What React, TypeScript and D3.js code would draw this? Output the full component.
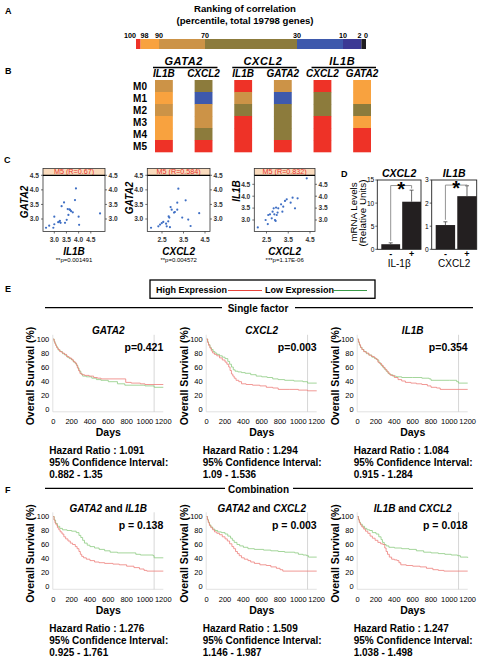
import React from "react";
import * as d3 from "d3";

const FONT = "'Liberation Sans', Arial, Helvetica, sans-serif";

// ---------------- Panel A : ranking colour scale ----------------
const rankBreaks = [100, 98, 90, 70, 30, 10, 2, 0];
const rankTickLabels = ["100", "98", "90", "70", "30", "10", "2", "0"];
const rankColors = ["#EE3227", "#F8A23F", "#CC9347", "#8C7B3C", "#3E59AC", "#3B3994", "#1F1D20"];

// ---------------- Panel B : module heatmap ----------------
const moduleNames = ["M0", "M1", "M2", "M3", "M4", "M5"];
const groupGenes = ["GATA2", "CXCL2", "IL1B"];
const partnerGenes = ["IL1B", "CXCL2", "IL1B", "GATA2", "CXCL2", "GATA2"];
// index into rankColors, one value per module M0..M5
const binGata2Il1b = [2, 1, 2, 1, 1, 0];
const binGata2Cxcl2 = [3, 4, 2, 2, 3, 0];
const binCxcl2Il1b = [0, 2, 3, 0, 0, 0];
const binCxcl2Gata2 = [2, 4, 3, 3, 3, 0];
const binIl1bCxcl2 = [0, 3, 3, 0, 0, 0];
const binIl1bGata2 = [1, 1, 3, 1, 0, 0];
const heatColumns = [binGata2Il1b, binGata2Cxcl2, binCxcl2Il1b, binCxcl2Gata2, binIl1bCxcl2, binIl1bGata2];

// ---------------- Panel C : scatter plots (M5) ----------------
const il1bVsGata2 = [
  [2.66, 2.7], [2.79, 2.77], [2.96, 2.7], [3.0, 2.82], [3.0, 3.08], [3.16, 2.89], [3.21, 2.91],
  [3.23, 2.94], [3.26, 2.87], [3.3, 3.44], [3.4, 3.57], [3.44, 2.87], [3.51, 2.97], [3.55, 3.34],
  [3.58, 3.14], [3.62, 3.33], [3.65, 3.31], [3.69, 3.27], [3.76, 3.23], [3.85, 3.65], [3.89, 4.05],
  [4.0, 3.08], [4.02, 2.8], [4.88, 3.19],
];
const cxcl2VsGata2 = [
  [1.99, 2.7], [2.33, 2.75], [2.41, 2.81], [2.49, 2.86], [2.56, 2.9], [2.69, 2.84], [2.72, 2.75],
  [2.79, 2.92], [2.81, 3.09], [2.84, 3.05], [2.87, 2.72], [2.9, 3.41], [2.95, 3.32], [3.06, 3.22],
  [3.1, 3.24], [3.21, 3.56], [3.26, 4.04], [3.21, 3.32], [3.44, 3.05], [3.6, 3.64], [3.72, 2.98],
  [3.83, 2.76], [4.23, 3.2],
];
const cxcl2VsIl1b = [
  [2.1, 2.69], [2.46, 3.0], [2.56, 2.83], [2.58, 3.21], [2.66, 3.24], [2.74, 3.07], [2.78, 3.35],
  [2.83, 3.49], [2.86, 3.24], [2.89, 3.0], [2.92, 2.96], [2.94, 3.52], [2.97, 3.21], [3.01, 3.31],
  [3.04, 3.49], [3.17, 3.66], [3.23, 3.35], [3.27, 3.56], [3.35, 3.8], [3.43, 3.87], [3.61, 3.73],
  [3.7, 3.94], [3.81, 3.49], [3.93, 3.91], [4.35, 4.75],
];

// ---------------- Panel D : qPCR bars ----------------
const dGroups = ["-", "+"];
const cxcl2Mean = [1.1, 10.3];
const cxcl2Err = [0.3, 2.5];
const cxcl2Ticks = [0, 5, 10, 15];
const il1bMean = [1.05, 2.3];
const il1bErr = [0.14, 0.45];
const il1bTicks = [0, 1, 2, 3];

// ---------------- Panels E / F : Kaplan-Meier curves ----------------
const kmDayTicks = [0, 200, 400, 600, 800, 1000, 1200];
const kmPctTicks = [0, 20, 40, 60, 80, 100];

const kmGata2High = [[0,100],[8,97],[15,94],[25,91],[35,88],[50,85],[70,82],[95,80],[120,78],[145,75],[170,73],[195,71],[215,68],[235,66],[250,63],[262,59],[275,55],[290,51],[310,49],[340,48],[390,47],[440,45],[480,44],[520,43],[760,43],[790,38],[850,37],[950,36],[1000,35],[1200,35]];
const kmGata2Low = [[0,100],[10,96],[20,93],[30,90],[42,87],[55,84],[75,82],[100,79],[125,77],[150,74],[175,72],[200,70],[220,67],[240,65],[255,62],[268,58],[282,54],[300,50],[320,47],[360,46],[420,44],[470,42],[520,41],[600,39],[700,36],[780,34],[1000,33],[1100,31],[1200,31]];
const kmCxcl2High = [[0,100],[10,95],[20,91],[35,87],[50,83],[65,80],[85,78],[110,76],[140,73],[170,70],[200,67],[220,64],[240,60],[255,55],[270,50],[285,47],[300,44],[320,41],[350,39],[380,36],[430,35],[500,34],[580,33],[650,31],[720,30],[780,28],[900,28],[1000,27],[1100,26],[1200,26]];
const kmCxcl2Low = [[0,100],[10,96],[20,92],[35,88],[50,85],[70,82],[90,80],[110,78],[140,76],[170,74],[200,72],[230,68],[250,64],[270,60],[290,56],[310,54],[340,53],[380,52],[420,51],[480,49],[540,47],[600,46],[660,45],[720,43],[780,42],[850,41],[950,40],[1050,39],[1100,37],[1200,37]];
const kmIl1bHigh = [[0,100],[8,96],[18,92],[30,88],[45,85],[65,82],[90,80],[120,77],[150,75],[180,73],[200,71],[220,67],[240,65],[260,62],[280,59],[300,56],[320,53],[340,50],[360,48],[400,45],[440,42],[480,40],[520,38],[580,37],[640,36],[700,35],[760,33],[800,31],[860,30],[900,28],[1200,28]];
const kmIl1bLow = [[0,100],[10,95],[20,91],[32,88],[48,85],[68,82],[95,79],[125,77],[155,74],[185,72],[210,70],[230,66],[250,63],[270,60],[290,57],[310,54],[330,51],[350,49],[380,47],[420,46],[480,45],[600,45],[700,44],[780,43],[800,41],[1000,41],[1080,39],[1100,37],[1200,37]];
const kmGata2Il1bHigh = [[0,100],[8,95],[18,91],[30,88],[45,84],[60,81],[75,78],[95,75],[115,71],[135,68],[160,65],[185,62],[210,60],[240,57],[260,54],[280,50],[295,46],[310,43],[330,41],[360,39],[400,37],[450,35],[500,34],[560,33],[650,32],[720,31],[800,29],[880,27],[940,25],[990,23],[1020,22],[1200,22]];
const kmGata2Il1bLow = [[0,100],[10,95],[25,90],[45,86],[70,83],[100,81],[150,80],[200,79],[250,77],[280,73],[300,70],[320,66],[340,62],[370,59],[400,57],[450,55],[500,53],[560,51],[620,49],[700,48],[870,48],[900,46],[950,45],[1090,44],[1100,41],[1200,41]];
const kmGata2Cxcl2High = [[0,100],[8,95],[18,91],[30,87],[45,84],[65,81],[85,78],[110,76],[140,74],[170,71],[200,68],[225,65],[250,61],[275,57],[295,54],[315,50],[335,47],[355,44],[380,41],[410,39],[450,37],[480,35],[520,33],[580,31],[650,30],[700,28],[760,26],[800,24],[830,22],[1200,22]];
const kmGata2Cxcl2Low = [[0,100],[8,96],[18,92],[30,88],[45,85],[65,82],[90,80],[120,78],[160,77],[200,75],[230,72],[260,69],[280,66],[300,63],[330,60],[360,58],[400,56],[450,54],[520,53],[620,52],[700,51],[780,50],[850,49],[960,48],[1000,46],[1050,45],[1090,44],[1110,42],[1200,42]];
const kmIl1bCxcl2High = [[0,100],[8,95],[18,91],[30,88],[45,85],[65,82],[85,79],[110,76],[135,72],[160,69],[190,66],[220,63],[250,61],[275,60],[295,55],[310,50],[325,46],[345,42],[370,39],[400,38],[430,37],[450,34],[470,31],[530,30],[600,29],[680,28],[750,26],[820,24],[880,23],[940,22],[1200,22]];
const kmIl1bCxcl2Low = [[0,100],[8,96],[18,92],[30,89],[50,86],[75,83],[100,81],[130,80],[160,77],[200,75],[230,71],[255,67],[270,63],[290,60],[310,58],[340,56],[400,55],[480,54],[560,53],[640,51],[720,49],[800,48],[880,47],[950,46],[1020,45],[1090,44],[1120,42],[1200,41]];

const singleTitles = [["GATA2"], ["CXCL2"], ["IL1B"]];
const singleP = ["p=0.421", "p=0.003", "p=0.354"];
const singleHR = ["1.091", "1.294", "1.084"];
const singleCI = ["0.882 - 1.35", "1.09 - 1.536", "0.915 - 1.284"];
const comboTitles = [["GATA2", "IL1B"], ["GATA2", "CXCL2"], ["IL1B", "CXCL2"]];
const comboP = ["p = 0.138", "p = 0.003", "p = 0.018"];
const comboHR = ["1.276", "1.509", "1.247"];
const comboCI = ["0.925 - 1.761", "1.146 - 1.987", "1.038 - 1.498"];

const singleCurves = [[kmGata2High, kmGata2Low], [kmCxcl2High, kmCxcl2Low], [kmIl1bHigh, kmIl1bLow]];
const comboCurves = [[kmGata2Il1bHigh, kmGata2Il1bLow], [kmGata2Cxcl2High, kmGata2Cxcl2Low], [kmIl1bCxcl2High, kmIl1bCxcl2Low]];

const KM_RED = "#EE7F7B";
const KM_GREEN = "#8DCB82";

// ===================================================================

function PanelA() {
  const x = d3.scaleLinear().domain([100, 0]).range([136, 366]);
  const anchors = ["end", "start", "middle", "middle", "middle", "middle", "end", "middle"];
  return (
    <g>
      <text x={245} y={11.5} textAnchor="middle" fontSize={9.6} fontWeight="bold">Ranking of correlation</text>
      <text x={245} y={23.5} textAnchor="middle" fontSize={9.6} fontWeight="bold">(percentile, total 19798 genes)</text>
      {rankColors.map((c, i) => (
        <rect key={i} x={x(rankBreaks[i])} y={39} width={x(rankBreaks[i + 1]) - x(rankBreaks[i])} height={10} fill={c} />
      ))}
      {rankTickLabels.map((t, i) => (
        <text key={i} x={x(rankBreaks[i])} y={37.8} textAnchor={anchors[i]} fontSize={7.2} fontWeight="bold">{t}</text>
      ))}
    </g>
  );
}

function PanelB() {
  const cols = d3.range(heatColumns.length);
  const xb = d3.scaleBand<number>().domain(cols).range([155, 371]).paddingInner(0.55);
  const yb = d3.scaleBand<string>().domain(moduleNames).range([80, 152]);
  return (
    <g>
      {groupGenes.map((g, gi) => {
        const a = xb(gi * 2)!;
        const b = xb(gi * 2 + 1)! + xb.bandwidth();
        return (
          <g key={g}>
            <text x={(a + b) / 2} y={65} textAnchor="middle" fontSize={11} fontWeight="bold" fontStyle="italic" letterSpacing={0.6}>{g}</text>
            <line x1={a - 2} x2={b + 5} y1={67.5} y2={67.5} stroke="#000" strokeWidth={1.5} />
          </g>
        );
      })}
      {partnerGenes.map((p, i) => (
        <text key={i} x={xb(i)! + xb.bandwidth() / 2} y={76.8} textAnchor="middle" fontSize={10} fontWeight="bold" fontStyle="italic">{p}</text>
      ))}
      {moduleNames.map((m) => (
        <text key={m} x={147} y={yb(m)! + yb.bandwidth() / 2 + 3.6} textAnchor="end" fontSize={10} fontWeight="bold">{m}</text>
      ))}
      {heatColumns.map((col, ci) =>
        col.map((bin, ri) => (
          <rect key={ci + "-" + ri} x={xb(ci)} y={yb(moduleNames[ri])} width={xb.bandwidth()} height={yb.bandwidth() + 0.3} fill={rankColors[bin]} />
        ))
      )}
    </g>
  );
}

function Scatter(props: any) {
  const { pts, x0, x1, xDom, xRange, xTicks, yDom, yRange, yTicks, strip, xTitle, yTitle, yTitleX, yTitleY, pText } = props;
  const top = 168.5, stripB = 175.3, bottom = 231.5;
  const x = d3.scaleLinear().domain(xDom).range(xRange);
  const y = d3.scaleLinear().domain(yDom).range(yRange);
  const fmt = d3.format(".1f");
  const cx = (x0 + x1) / 2;
  return (
    <g>
      <rect x={x0} y={top} width={x1 - x0} height={stripB - top} fill="#FADBBD" />
      <text x={cx} y={stripB - 1.2} textAnchor="middle" fontSize={7.2} fill="#E5322B">{strip}</text>
      <rect x={x0} y={top} width={x1 - x0} height={bottom - top} fill="none" stroke="#333" strokeWidth={0.8} />
      <line x1={x0} x2={x1} y1={stripB} y2={stripB} stroke="#000" strokeWidth={1.2} />
      {pts.map((d: number[], i: number) => (
        <circle key={i} cx={x(d[0])} cy={y(d[1])} r={1.1} fill="#3F6FC4" />
      ))}
      {yTicks.map((t: number) => (
        <g key={t}>
          <line x1={x0 - 2} x2={x0} y1={y(t)} y2={y(t)} stroke="#333" strokeWidth={0.7} />
          <line x1={x1} x2={x1 + 2} y1={y(t)} y2={y(t)} stroke="#333" strokeWidth={0.7} />
          <text x={x0 - 4} y={y(t) + 2.3} textAnchor="end" fontSize={6.6} fontWeight="bold" fill="#333">{fmt(t)}</text>
          <text x={x1 + 3.5} y={y(t) + 2.3} textAnchor="start" fontSize={6.6} fontWeight="bold" fill="#333">{fmt(t)}</text>
        </g>
      ))}
      {xTicks.map((t: number) => (
        <g key={t}>
          <line x1={x(t)} x2={x(t)} y1={bottom} y2={bottom + 2} stroke="#333" strokeWidth={0.7} />
          <text x={x(t)} y={bottom + 10} textAnchor="middle" fontSize={6.6} fontWeight="bold" fill="#333">{fmt(t)}</text>
        </g>
      ))}
      <text x={cx} y={255} textAnchor="middle" fontSize={10} fontWeight="bold" fontStyle="italic">{xTitle}</text>
      <text x={cx} y={261.7} textAnchor="middle" fontSize={6}>{pText}</text>
      <text transform={`translate(${yTitleX},${yTitleY}) rotate(-90)`} textAnchor="middle" fontSize={10} fontWeight="bold" fontStyle="italic">{yTitle}</text>
    </g>
  );
}

function BarPanel(props: any) {
  const { x0, x1, means, errs, yMax, ticks, title, xLabel, bracketV } = props;
  const yTop = 180, yBot = 249.3;
  const y = d3.scaleLinear().domain([0, yMax]).range([yBot, yTop]);
  const xb = d3.scaleBand<string>().domain(dGroups).range([x0 + 4, x1]).paddingInner(0.1);
  const c = (g: string) => xb(g)! + xb.bandwidth() / 2;
  const by = y(bracketV);
  return (
    <g>
      <text x={(x0 + x1) / 2} y={177} textAnchor="middle" fontSize={10.5} fontWeight="bold" fontStyle="italic">{title}</text>
      {dGroups.map((g, i) => (
        <g key={g}>
          <rect x={xb(g)} y={y(means[i])} width={xb.bandwidth()} height={yBot - y(means[i])} fill="#231F20" />
          <line x1={c(g)} x2={c(g)} y1={y(means[i])} y2={y(means[i] + errs[i])} stroke="#444" strokeWidth={0.8} />
          <line x1={c(g) - 2} x2={c(g) + 2} y1={y(means[i] + errs[i])} y2={y(means[i] + errs[i])} stroke="#444" strokeWidth={0.8} />
          <text x={c(g)} y={257} textAnchor="middle" fontSize={9} fontWeight="bold">{g}</text>
        </g>
      ))}
      <path
        d={`M${c("-")},${y(means[0] + errs[0]) - 2} V${by} H${c("+")} V${Math.min(y(means[1] + errs[1]) - 1, by + 3)}`}
        fill="none" stroke="#888" strokeWidth={0.9}
      />
      <text x={(c("-") + c("+")) / 2} y={by + 10} textAnchor="middle" fontSize={20} fontWeight="bold">*</text>
      <rect x={x0} y={yTop} width={x1 - x0} height={yBot - yTop} fill="none" stroke="#222" strokeWidth={0.9} />
      {ticks.map((t: number) => (
        <g key={t}>
          <line x1={x0 - 2} x2={x0} y1={y(t)} y2={y(t)} stroke="#222" strokeWidth={0.7} />
          <text x={x0 - 3} y={y(t) + 2.4} textAnchor="end" fontSize={6.6}>{t}</text>
        </g>
      ))}
      <text x={(x0 + x1) / 2} y={266.5} textAnchor="middle" fontSize={10}>{xLabel}</text>
    </g>
  );
}

function KM(props: any) {
  const { x0, y100, y0, high, low, title, p, hr, ci } = props;
  const x = d3.scaleLinear().domain([0, 1200]).range([x0, x0 + 110]);
  const y = d3.scaleLinear().domain([0, 100]).range([y0, y100]);
  const line = d3.line<number[]>().x((d) => x(d[0])).y((d) => y(d[1])).curve(d3.curveStepAfter);
  const titleY = y100 - 5;
  return (
    <g>
      <text x={x0 + 55} y={titleY} textAnchor="middle" fontSize={10} fontWeight="bold">
        <tspan fontStyle="italic">{title[0]}</tspan>
        {title.length > 1 ? <tspan> and </tspan> : null}
        {title.length > 1 ? <tspan fontStyle="italic">{title[1]}</tspan> : null}
      </text>
      <line x1={x(0) - 0.5} x2={x(0) - 0.5} y1={y(106)} y2={y(-4)} stroke="#d6d6d6" strokeWidth={0.7} />
      <line x1={x(0) - 0.5} x2={x(1200)} y1={y(-4)} y2={y(-4)} stroke="#d6d6d6" strokeWidth={0.7} />
      <line x1={x(1100)} x2={x(1100)} y1={y(106)} y2={y(-4)} stroke="#c6c6c6" strokeWidth={0.7} />
      <path d={line(low) || ""} fill="none" stroke={KM_GREEN} strokeWidth={0.8} />
      <path d={line(high) || ""} fill="none" stroke={KM_RED} strokeWidth={0.8} />
      {kmPctTicks.map((t) => (
        <text key={t} x={x0 - 4} y={y(t) + 2.6} textAnchor="end" fontSize={7.5}>{t}</text>
      ))}
      {kmDayTicks.map((t) => (
        <text key={t} x={x(t)} y={y0 + 15} textAnchor="middle" fontSize={7.5}>{t}</text>
      ))}
      <text x={x0 + 55} y={y0 + 27} textAnchor="middle" fontSize={10.5} fontWeight="bold">Days</text>
      <text transform={`translate(${x0 - 19},${(y0 + y100) / 2 + 2}) rotate(-90)`} textAnchor="middle" fontSize={10.5} fontWeight="bold">Overall Survival (%)</text>
      <text x={x0 + 110} y={y100 + 12} textAnchor="end" fontSize={10.5} fontWeight="bold">{p}</text>
      <text x={x0 - 4} y={y0 + 45} fontSize={10} fontWeight="bold">Hazard Ratio : {hr}</text>
      <text x={x0 - 4} y={y0 + 57} fontSize={10} fontWeight="bold">95% Confidence Interval:</text>
      <text x={x0 - 4} y={y0 + 69} fontSize={10} fontWeight="bold">{ci}</text>
    </g>
  );
}

export default function App() {
  const kmX = [53.3, 206.7, 357.7];
  return (
    <svg width={483} height={660} viewBox="0 0 483 660" style={{ position: "absolute", left: 0, top: 0, background: "#fff" }} fontFamily={FONT}>
      <rect x={0} y={0} width={483} height={660} fill="#fff" />
      {/* panel letters */}
      <text x={5} y={14} fontSize={9} fontWeight="bold">A</text>
      <text x={5} y={74} fontSize={9} fontWeight="bold">B</text>
      <text x={4} y={163} fontSize={9} fontWeight="bold">C</text>
      <text x={341} y={177} fontSize={9} fontWeight="bold">D</text>
      <text x={5} y={292} fontSize={9} fontWeight="bold">E</text>
      <text x={5} y={493} fontSize={9} fontWeight="bold">F</text>

      <PanelA />
      <PanelB />

      <Scatter pts={il1bVsGata2} x0={43} x1={105} xDom={[3.0, 4.5]} xRange={[54.3, 90.8]} xTicks={[3.0, 3.5, 4.0, 4.5]}
        yDom={[3.0, 4.5]} yRange={[219, 175.3]} yTicks={[3.0, 3.5, 4.0, 4.5]} strip="M5 (R=0.67)"
        xTitle="IL1B" yTitle="GATA2" yTitleX={27.5} yTitleY={202} pText="**p=0.001491" />
      <Scatter pts={cxcl2VsGata2} x0={147.3} x1={210} xDom={[2.5, 4.5]} xRange={[162, 205]} xTicks={[2.5, 3.5, 4.5]}
        yDom={[3.0, 4.5]} yRange={[219, 175.3]} yTicks={[3.0, 3.5, 4.0, 4.5]} strip="M5 (R=0.584)"
        xTitle="CXCL2" yTitle="GATA2" yTitleX={133} yTitleY={198} pText="**p=0.004572" />
      <Scatter pts={cxcl2VsIl1b} x0={254.3} x1={315} xDom={[2.5, 4.5]} xRange={[266.5, 310]} xTicks={[2.5, 3.5, 4.5]}
        yDom={[3.0, 4.5]} yRange={[220, 184.3]} yTicks={[3.0, 3.5, 4.0, 4.5]} strip="M5 (R=0.832)"
        xTitle="CXCL2" yTitle="IL1B" yTitleX={240} yTitleY={191} pText="***p=1.17E-06" />

      <text transform="translate(356.5,212) rotate(-90)" textAnchor="middle" fontSize={9.8}>mRNA Levels</text>
      <text transform="translate(366,213) rotate(-90)" textAnchor="middle" fontSize={9.8}>(Relative Units)</text>
      <BarPanel x0={377.3} x1={421} means={cxcl2Mean} errs={cxcl2Err} yMax={15} ticks={cxcl2Ticks} title="CXCL2" xLabel="IL-1β" bracketV={13.8} />
      <BarPanel x0={431.7} x1={476.7} means={il1bMean} errs={il1bErr} yMax={3} ticks={il1bTicks} title="IL1B" xLabel="CXCL2" bracketV={2.78} />

      {/* legend */}
      <rect x={150} y={280} width={225} height={18.3} fill="none" stroke="#000" strokeWidth={1.3} />
      <text x={156} y={292.5} fontSize={9} fontWeight="bold">High Expression</text>
      <line x1={228} x2={262} y1={290.5} y2={290.5} stroke="#E8453C" strokeWidth={1} />
      <text x={265} y={292.5} fontSize={9} fontWeight="bold">Low Expression</text>
      <line x1={333} x2={367} y1={290.5} y2={290.5} stroke="#3A9B48" strokeWidth={1} />

      <line x1={45} x2={222} y1={307.7} y2={307.7} stroke="#000" strokeWidth={1.3} />
      <line x1={295} x2={473} y1={307.7} y2={307.7} stroke="#000" strokeWidth={1.3} />
      <text x={258} y={312} textAnchor="middle" fontSize={10} fontWeight="bold">Single factor</text>

      {kmX.map((x0, i) => (
        <KM key={"e" + i} x0={x0} y100={339} y0={409} high={singleCurves[i][0]} low={singleCurves[i][1]}
          title={singleTitles[i]} p={singleP[i]} hr={singleHR[i]} ci={singleCI[i]} />
      ))}

      <line x1={45} x2={225} y1={488.3} y2={488.3} stroke="#000" strokeWidth={1.3} />
      <line x1={293} x2={473} y1={488.3} y2={488.3} stroke="#000" strokeWidth={1.3} />
      <text x={258.5} y={492.5} textAnchor="middle" fontSize={10} fontWeight="bold">Combination</text>

      {kmX.map((x0, i) => (
        <KM key={"f" + i} x0={x0} y100={516.5} y0={586.5} high={comboCurves[i][0]} low={comboCurves[i][1]}
          title={comboTitles[i]} p={comboP[i]} hr={comboHR[i]} ci={comboCI[i]} />
      ))}
    </svg>
  );
}
